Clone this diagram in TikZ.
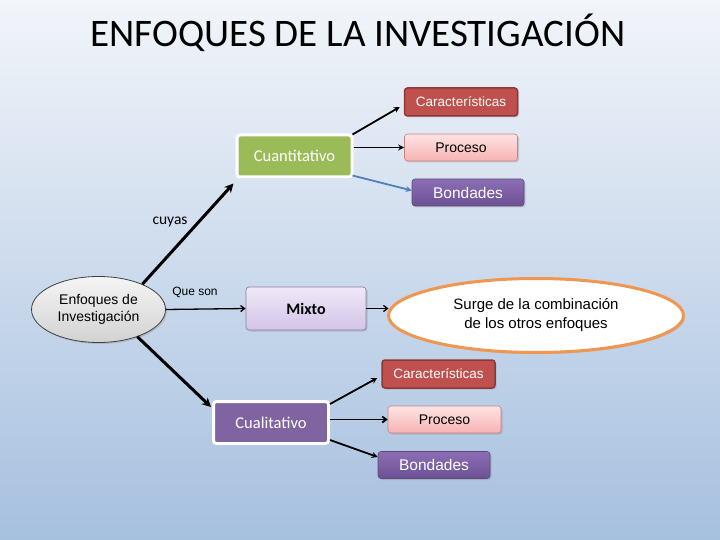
\documentclass[tikz,border=0pt]{standalone}
\usepackage{fontspec}
\setmainfont{Liberation Sans}
\newfontfamily\calfont{Carlito}
\usetikzlibrary{arrows.meta,shapes.geometric,shadows,calc}
\definecolor{bgtop}{RGB}{242,245,250}
\definecolor{bgbot}{RGB}{166,192,223}
\definecolor{redfill}{RGB}{192,80,77}
\definecolor{redline}{RGB}{140,56,54}
\definecolor{pinktop}{RGB}{255,228,228}
\definecolor{pinkbot}{RGB}{247,178,178}
\definecolor{pinkline}{RGB}{200,130,130}
\definecolor{purtop}{RGB}{140,110,180}
\definecolor{purbot}{RGB}{108,80,148}
\definecolor{purline}{RGB}{95,73,122}
\definecolor{purfill}{RGB}{128,100,162}
\definecolor{greenfill}{RGB}{155,187,89}
\definecolor{mixtop}{RGB}{240,233,248}
\definecolor{mixbot}{RGB}{210,196,232}
\definecolor{mixline}{RGB}{140,128,160}
\definecolor{orangeline}{RGB}{240,150,80}
\definecolor{graytop}{RGB}{245,245,245}
\definecolor{graybot}{RGB}{210,210,210}
\definecolor{blueline}{RGB}{79,129,189}
\tikzset{
  shad/.style={drop shadow={opacity=0.3,shadow xshift=1.5pt,shadow yshift=-1.5pt}},
  boxbase/.style={rectangle,rounded corners=3pt,inner sep=0pt,shad},
  redbox/.style={boxbase,fill=redfill,draw=redline,line width=1.5pt,text=white,
    minimum width=113pt,minimum height=28pt,font=\fontsize{13.5}{16}\selectfont},
  pinkbox/.style={boxbase,top color=pinktop,bottom color=pinkbot,draw=pinkline,line width=0.6pt,
    minimum width=113pt,minimum height=27pt,font=\fontsize{14}{16}\selectfont},
  purbox/.style={boxbase,top color=purtop,bottom color=purbot,draw=purline,line width=0.6pt,text=white,
    minimum width=112pt,minimum height=27pt,font=\fontsize{15.5}{18}\selectfont},
  mainbox/.style={boxbase,draw=white,line width=3pt,text=white,
    minimum width=115pt,minimum height=42pt,font=\calfont\fontsize{16.5}{19}\selectfont},
  thickarrow/.style={line width=3pt,-{Stealth[length=9pt,width=9pt]}},
  medarrow/.style={line width=1.8pt,-{Stealth[length=6pt,width=6pt]}},
  thinarrow/.style={line width=1.3pt,-{Straight Barb[length=4pt,width=6pt]}},
}
\begin{document}
\begin{tikzpicture}[x=1pt,y=-1pt]
\useasboundingbox (0,0) rectangle (720,540);
\shade[top color=bgtop,bottom color=bgbot] (0,0) rectangle (720,540);

\node[font=\calfont\fontsize{39}{46}\selectfont,anchor=base] (title) at (358,47) {ENFOQUES DE LA INVESTIGACIÓN};

% Cuantitativo group
\node[redbox] (car1) at (461,102) {Características};
\node[pinkbox] (pro1) at (461,147.5) {Proceso};
\node[purbox] (bon1) at (468,192.5) {Bondades};
\node[mainbox,fill=greenfill] (cuan) at (294.5,156) {Cuantitativo};

% Enfoques ellipse
\node[ellipse,top color=graytop,bottom color=graybot,draw={rgb,255:red,64;green,64;blue,64},line width=0.8pt,
  minimum width=134pt,minimum height=66pt,inner sep=0pt,align=center,shad,
  font=\fontsize{14}{16.5}\selectfont] (enf) at (98.5,309.5) {Enfoques de\\Investigación};

\node[font=\calfont\fontsize{15.5}{18}\selectfont] (cuyas) at (170,222) {cuyas};
\node[font=\fontsize{12}{14}\selectfont] (queson) at (195,292) {Que son};

% Mixto
\node[boxbase,top color=mixtop,bottom color=mixbot,draw=mixline,line width=0.7pt,
  minimum width=120pt,minimum height=43pt,font=\calfont\bfseries\fontsize{16}{19}\selectfont] (mixto) at (306,308.5) {Mixto};
\node[ellipse,fill=white,draw=orangeline,line width=3pt,minimum width=295pt,minimum height=74pt,
  inner sep=0pt,align=center,font=\fontsize{15}{19}\selectfont,shad] (surge) at (536,315.5)
  {Surge de la combinación\\de los otros enfoques};

% Cualitativo group
\node[redbox] (car2) at (438.5,374) {Características};
\node[pinkbox] (pro2) at (444.5,419.5) {Proceso};
\node[purbox] (bon2) at (434,465) {Bondades};
\node[mainbox,fill=purfill] (cual) at (271,422.5) {Cualitativo};

% connectors
\draw[thickarrow] (enf.30) -- ($(cuan.south west)+(-2,5)$);
\draw[thickarrow] (enf.-35) -- ($(cual.north west)+(-1,7)$);
\draw[thinarrow] (enf.east) -- (mixto.west);
\draw[thinarrow] (mixto.east) -- ($(mixto.east -| surge.west)+(1.5,0)$);

\draw[medarrow] ($(cuan.north east)+(-1,1)$) -- ($(car1.west)+(-4,5)$);
\draw[medarrow] (cuan.east |- pro1.west) -- (pro1.west);
\draw[medarrow,blueline] ($(cuan.south east)+(-1,-3)$) -- ($(bon1.west)+(0,-2)$);

\draw[medarrow] ($(cual.north east)+(0,4)$) -- ($(car2.west)+(-4,4)$);
\draw[thinarrow,line width=1.8pt] (cual.east |- pro2.west) -- (pro2.west);
\draw[medarrow] ($(cual.south east)+(0,-5)$) -- ($(bon2.west)+(0,-8)$);
\end{tikzpicture}
\end{document}
